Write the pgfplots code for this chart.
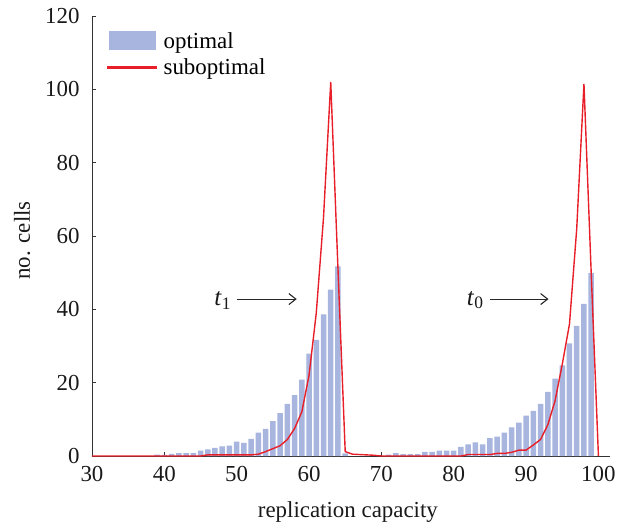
\documentclass[border=0pt]{standalone}
\usepackage{fontspec}
\setmainfont{Liberation Serif}
\usepackage{pgfplots}
\pgfplotsset{compat=1.18}
\usetikzlibrary{arrows.meta}
\definecolor{barblue}{RGB}{168,181,223}
\definecolor{linered}{RGB}{232,30,40}
\begin{document}
\begin{tikzpicture}
\begin{axis}[
  at={(0,0)}, anchor=south west,
  scale only axis, width=518bp, height=440bp,
  xmin=30, xmax=101.6, ymin=0, ymax=120,
  axis x line*=bottom, axis y line*=left,
  axis line style={line width=0.8bp, draw=black!80},
  xtick={30,40,...,100}, ytick={0,20,...,120},
  tick align=inside, major tick length=4bp,
  tick style={line width=0.8bp, black!80},
  /pgf/number format/assume math mode=true,
  tick label style={font=\fontsize{23}{23}\selectfont, text=black!90},
  xticklabel style={yshift=-7bp},
  yticklabel style={xshift=-9bp},
  label style={font=\fontsize{23}{23}\selectfont, text=black!90},
  xlabel={replication capacity},
  ylabel={no. cells},
  xlabel style={at={(axis description cs:0.494,-0.127)}, anchor=center},
  ylabel style={at={(axis description cs:-0.135,0.49)}, anchor=center},
  clip=false,
  legend style={at={(axis description cs:0.029,0.968)}, anchor=north west, draw=none, fill=none,
    font=\fontsize{23}{23}\selectfont, row sep=5bp, inner sep=0pt,
    /tikz/every odd column/.append style={column sep=5bp}},
  legend cell align=left,
]
\addplot[ybar, bar width=0.76, fill=barblue, draw=none,
  legend image code/.code={\fill[fill=barblue] (0bp,-9.5bp) rectangle (47bp,9.5bp);}]
 coordinates {
 (39,0.4) (40,0.3) (41,0.6) (42,0.8) (43,0.8) (44,0.8) (45,1.5) (46,1.8) (47,2.2) (48,2.6) (49,2.8)
 (50,3.9) (51,3.6) (52,4.7) (53,6.4) (54,7.4) (55,9.5) (56,11.7) (57,14.2) (58,16.6) (59,20.8)
 (60,27.9) (61,31.7) (62,38.6) (63,45.4) (64,51.7) (65,0.7)
 (71,0.4) (72,0.8) (73,0.5) (74,0.5) (75,0.5) (76,1.1) (77,1.1) (78,1.5) (79,1.5)
 (80,1.5) (81,2.5) (82,3.2) (83,3.7) (84,3.2) (85,4.9) (86,5.3) (87,6.4) (88,7.8) (89,9.1)
 (90,11.0) (91,12.3) (92,14.2) (93,17.5) (94,21.1) (95,24.7) (96,30.7) (97,35.5) (98,41.5) (99,49.9)
 };
\addlegendentry{optimal}
\addplot[draw=linered, line width=1.4bp, mark=none,
  legend image code/.code={\fill[fill=linered] (-1bp,-0.8bp) rectangle (47bp,0.8bp);}]
 coordinates {
 (30,0) (45,0) (46,0.3) (52,0.3) (53,0.5) (54,1.2) (55,2.0) (56,2.8) (57,4.5) (58,7.5) (59,12)
 (60,22) (61,39) (62,65) (63,102) (64,51) (65,1.2) (66,0.5) (67,0.4) (68,0.3) (69,0.2) (70,0)
 (81,0) (82,0.4) (85,0.4) (86,0.7) (87,0.7) (88,1.0) (89,1.6) (90,1.6) (91,3.0) (92,4.5)
 (93,8.5) (94,15) (95,25) (96,36) (97,62) (98,101.5) (99,50) (100,0)
 };
\addlegendentry{suboptimal}
\draw[-{Straight Barb[length=7bp,width=11bp]}, line width=1.1bp, black!85]
  (axis cs:50.1,42.8) -- (axis cs:58.3,42.8);
\draw[-{Straight Barb[length=7bp,width=11bp]}, line width=1.1bp, black!85]
  (axis cs:85.0,42.8) -- (axis cs:93.1,42.8);
\node[anchor=east, font=\fontsize{25}{25}\selectfont, text=black!90] at (axis cs:49.7,42.5) {\textit{t}\textsubscript{1}};
\node[anchor=east, font=\fontsize{25}{25}\selectfont, text=black!90] at (axis cs:84.6,42.5) {\textit{t}\textsubscript{0}};
\end{axis}
\pgfresetboundingbox
\path[use as bounding box] (-92bp,-68bp) rectangle (525bp,456bp);
\end{tikzpicture}
\end{document}
